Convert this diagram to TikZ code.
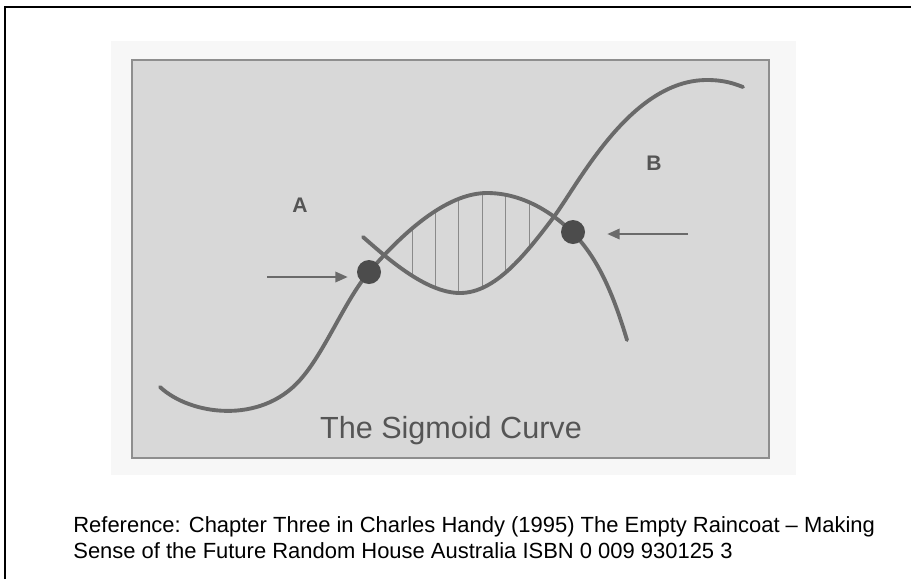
\documentclass[tikz,border=0pt]{standalone}
\usepackage{fontspec}
\setmainfont{Liberation Sans}
\usetikzlibrary{arrows.meta}
\definecolor{panelfill}{HTML}{D8D8D8}
\definecolor{paneledge}{HTML}{8E8E8E}
\definecolor{curvegray}{HTML}{6A6A6A}
\definecolor{spotgray}{HTML}{4C4C4C}
\definecolor{hatchgray}{HTML}{8A8A8A}
\definecolor{labelgray}{HTML}{555555}

\begin{document}
\begin{tikzpicture}[x=0.02cm,y=-0.02cm,
    curve/.style={line width=2.2pt,draw=curvegray,line cap=round},
    hatch/.style={line width=0.5pt,draw=hatchgray},
    pointer/.style={line width=1pt,draw=curvegray,-{Triangle[length=7pt,width=6pt]}},
    spot/.style={circle,fill=spotgray,minimum size=0.48cm,inner sep=0pt},
    letter/.style={text=labelgray,font=\bfseries\fontsize{12}{14}\selectfont}]
  \useasboundingbox (0,0) rectangle (911,579);
  % frame and panel
  \draw[line width=1.2pt] (5,579) -- (5,7) -- (911,7);
  \fill[black!3] (111,41) rectangle (796,475);
  \draw[fill=panelfill,draw=paneledge,line width=1pt] (132,60) rectangle (769,458);
  % hatching between the two curves
  \begin{scope}
    \clip (160,387) .. controls (190,415) and (260,425) .. (300,380)
      .. controls (325,352) and (345,300) .. (369,272)
      .. controls (400,236) and (445,193) .. (487,193)
      .. controls (520,193) and (550,210) .. (573,233)
      .. controls (600,260) and (615,300) .. (627,340)
      -- (627,470) -- (160,470) -- cycle;
    \clip (363,237) .. controls (385,256) and (425,293) .. (460,293)
      .. controls (495,293) and (525,255) .. (553,218)
      .. controls (578,185) and (630,80) .. (707,80)
      .. controls (725,80) and (735,84) .. (743,87)
      -- (743,50) -- (363,50) -- cycle;
    \foreach \hx in {412,435.4,...,530}
      \draw[hatch] (\hx,150) -- (\hx,320);
  \end{scope}
  % first curve
  \draw[curve] (160,387) .. controls (190,415) and (260,425) .. (300,380)
    .. controls (325,352) and (345,300) .. (369,272)
    .. controls (400,236) and (445,193) .. (487,193)
    .. controls (520,193) and (550,210) .. (573,233)
    .. controls (600,260) and (615,300) .. (627,340);
  % second curve
  \draw[curve] (363,237) .. controls (385,256) and (425,293) .. (460,293)
    .. controls (495,293) and (525,255) .. (553,218)
    .. controls (578,185) and (630,80) .. (707,80)
    .. controls (725,80) and (735,84) .. (743,87);
  % points and arrows
  \node[spot] (dotA) at (369,272) {};
  \node[spot] (dotB) at (573,232) {};
  \coordinate (tailA) at (267,277);
  \coordinate (tailB) at (688,234);
  \draw[pointer,shorten >=0.18cm] (tailA) -- (tailA -| dotA.west);
  \draw[pointer,shorten >=0.44cm] (tailB) -- (tailB -| dotB.east);
  \node[letter] (labA) at (300,205) {A};
  \node[letter] (labB) at (654,163) {B};
  \node[text=labelgray,font=\fontsize{17.4}{20}\selectfont,anchor=base] (title) at (451,438) {The Sigmoid Curve};
  % source line
  \node[anchor=base west,align=left,inner sep=0pt,font=\fontsize{12.5}{14.7}\selectfont] (source) at (73,558)
    {Reference: Chapter Three in Charles Handy (1995) The Empty Raincoat – Making\\
     Sense of the Future Random House Australia ISBN 0 009 930125 3};
\end{tikzpicture}
\end{document}
